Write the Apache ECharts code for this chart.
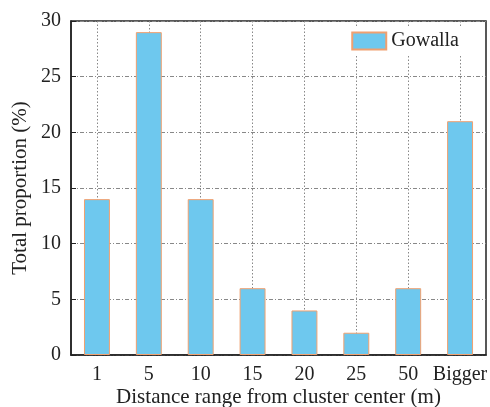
<!DOCTYPE html>
<html><head><meta charset="utf-8">
<script src="https://cdn.jsdelivr.net/npm/echarts@6/dist/echarts.min.js"></script>
<style>html,body{margin:0;padding:0;background:#fff}#c{width:490px;height:407px}</style>
</head><body><div id="c"></div>
<script>
const categories = ['1','5','10','15','20','25','50','Bigger'];
const gowalla = [14, 29, 14, 6, 4, 2, 6, 21];
const yTicks = {min: 0, max: 30, interval: 5};
const F = 'Liberation Serif';
const chart = echarts.init(document.getElementById('c'));
chart.setOption({
  animation: false,
  textStyle: {fontFamily: F},
  grid: {left: 71, right: 4, top: 21, bottom: 52, show: true, borderColor: '#222', borderWidth: 1.5,
         backgroundColor: 'transparent', containLabel: false, outerBoundsMode: 'none'},
  legend: {
    data: ['Gowalla'], right: 25, top: 28, itemWidth: 34, itemHeight: 17, itemGap: 8,
    icon: 'rect',
    backgroundColor: '#fff', padding: [3, 6, 3, 6],
    textStyle: {fontFamily: F, fontSize: 20, color: '#222'}
  },
  xAxis: {
    type: 'category', data: categories,
    name: 'Distance range from cluster center (m)', nameLocation: 'middle', nameGap: 32,
    nameMoveOverlap: false,
    nameTextStyle: {fontFamily: F, fontSize: 21, color: '#222'},
    axisLine: {lineStyle: {color: '#222', width: 1.5}},
    axisTick: {show: true, inside: true, alignWithLabel: true, length: 5, lineStyle: {color: '#222'}},
    axisLabel: {fontFamily: F, fontSize: 20, color: '#222', margin: 10, interval: 0},
    splitLine: {show: true, alignWithLabel: true, lineStyle: {color: '#888', type: [1.5, 2], width: 1}}
  },
  yAxis: {
    type: 'value', min: yTicks.min, max: yTicks.max, interval: yTicks.interval,
    name: 'Total proportion (%)', nameLocation: 'middle', nameGap: 40,
    nameMoveOverlap: false,
    nameTextStyle: {fontFamily: F, fontSize: 21, color: '#222'},
    axisLine: {show: true, lineStyle: {color: '#222', width: 1.5}},
    axisTick: {show: true, inside: true, length: 5, lineStyle: {color: '#222'}},
    axisLabel: {fontFamily: F, fontSize: 20, color: '#222', margin: 10},
    splitLine: {show: true, lineStyle: {color: '#888', type: [4, 2, 1, 2], width: 1}}
  },
  series: [{
    name: 'Gowalla', type: 'bar', data: gowalla, barWidth: '50%',
    itemStyle: {color: '#6EC8EE', borderColor: '#F0A070', borderWidth: 1}
  }]
});
</script></body></html>
